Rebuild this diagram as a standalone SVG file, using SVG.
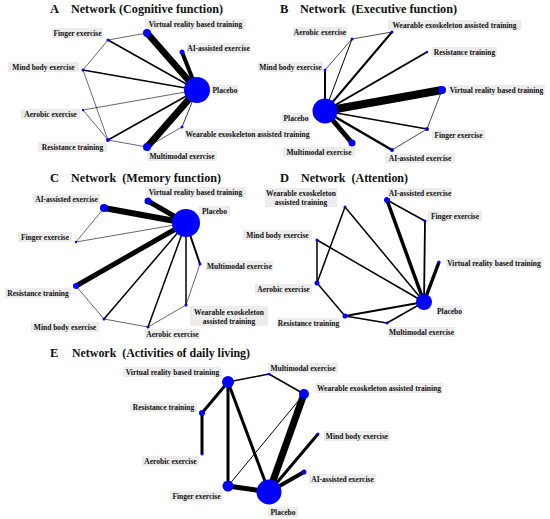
<svg xmlns="http://www.w3.org/2000/svg" width="550" height="519" viewBox="0 0 550 519">
<style>
.bg{fill:#ffffff}
.n{fill:#0000ff}
.lb{fill:#ececec}
.t{font-family:"Liberation Serif","Times New Roman",serif;font-weight:bold;font-size:7.5px;fill:#111;text-anchor:middle}
.ti{font-family:"Liberation Serif","Times New Roman",serif;font-weight:bold;font-size:12.5px;fill:#111}
.e{stroke:#000;fill:none;stroke-linecap:butt}
</style>
<rect class="bg" x="0" y="0" width="550" height="519"/>

<!-- Titles -->
<g id="titles">
<text class="ti" x="50" y="13">A</text><text class="ti" x="71" y="13" textLength="152" lengthAdjust="spacingAndGlyphs">Network (Cognitive function)</text>
<text class="ti" x="280" y="13">B</text><text class="ti" x="300" y="13" textLength="157" lengthAdjust="spacingAndGlyphs" xml:space="preserve">Network  (Executive function)</text>
<text class="ti" x="50" y="182">C</text><text class="ti" x="71" y="182" textLength="150" lengthAdjust="spacingAndGlyphs" xml:space="preserve">Network  (Memory function)</text>
<text class="ti" x="280" y="182">D</text><text class="ti" x="301" y="182" textLength="107" lengthAdjust="spacingAndGlyphs" xml:space="preserve">Network  (Attention)</text>
<text class="ti" x="50" y="357">E</text><text class="ti" x="72" y="357" textLength="178" lengthAdjust="spacingAndGlyphs" xml:space="preserve">Network  (Activities of daily living)</text>
</g>

<!-- Connectors -->
<g id="connectors">
<g id="edges-A">
<line class="e" x1="197" y1="90" x2="147" y2="33" stroke-width="6.5"/>
<line class="e" x1="197" y1="90" x2="182" y2="52" stroke-width="4"/>
<line class="e" x1="197" y1="90" x2="147" y2="147" stroke-width="7"/>
<line class="e" x1="197" y1="90" x2="83" y2="70" stroke-width="1.5"/>
<line class="e" x1="197" y1="90" x2="108" y2="40" stroke-width="1.5"/>
<line class="e" x1="197" y1="90" x2="83" y2="110" stroke-width="0.6"/>
<line class="e" x1="197" y1="90" x2="108" y2="140" stroke-width="1.5"/>
<line class="e" x1="197" y1="90" x2="182" y2="127" stroke-width="0.8"/>
<line class="e" x1="108" y1="40" x2="147" y2="33" stroke-width="0.6"/>
<line class="e" x1="108" y1="40" x2="83" y2="70" stroke-width="0.6"/>
<line class="e" x1="83" y1="70" x2="108" y2="140" stroke-width="0.6"/>
<line class="e" x1="83" y1="110" x2="108" y2="140" stroke-width="0.6"/>
<line class="e" x1="108" y1="140" x2="147" y2="147" stroke-width="0.6"/>
<line class="e" x1="147" y1="147" x2="182" y2="127" stroke-width="0.6"/>
</g>
<g id="edges-B">
<line class="e" x1="325" y1="111" x2="442" y2="90" stroke-width="8"/>
<line class="e" x1="325" y1="111" x2="352" y2="143" stroke-width="5"/>
<line class="e" x1="325" y1="111" x2="392" y2="150" stroke-width="2.5"/>
<line class="e" x1="325" y1="111" x2="427" y2="129" stroke-width="1.5"/>
<line class="e" x1="325" y1="111" x2="427" y2="52" stroke-width="2"/>
<line class="e" x1="325" y1="111" x2="392" y2="32" stroke-width="2"/>
<line class="e" x1="325" y1="111" x2="352" y2="39" stroke-width="1"/>
<line class="e" x1="325" y1="111" x2="325" y2="70" stroke-width="2"/>
<line class="e" x1="325" y1="70" x2="352" y2="39" stroke-width="0.7"/>
<line class="e" x1="352" y1="39" x2="392" y2="32" stroke-width="0.7"/>
<line class="e" x1="442" y1="90" x2="427" y2="129" stroke-width="0.7"/>
<line class="e" x1="427" y1="129" x2="392" y2="150" stroke-width="0.7"/>
</g>
<g id="edges-C">
<line class="e" x1="186" y1="223" x2="104" y2="208" stroke-width="6"/>
<line class="e" x1="186" y1="223" x2="148" y2="201" stroke-width="5"/>
<line class="e" x1="186" y1="223" x2="76" y2="286" stroke-width="5"/>
<line class="e" x1="186" y1="223" x2="76" y2="242" stroke-width="0.6"/>
<line class="e" x1="186" y1="223" x2="200" y2="264" stroke-width="2"/>
<line class="e" x1="186" y1="223" x2="186" y2="305" stroke-width="1.5"/>
<line class="e" x1="186" y1="223" x2="148" y2="327" stroke-width="1.5"/>
<line class="e" x1="186" y1="223" x2="104" y2="319" stroke-width="1.5"/>
<line class="e" x1="104" y1="208" x2="76" y2="242" stroke-width="0.6"/>
<line class="e" x1="76" y1="286" x2="104" y2="319" stroke-width="0.6"/>
<line class="e" x1="104" y1="319" x2="148" y2="327" stroke-width="0.6"/>
<line class="e" x1="148" y1="327" x2="186" y2="305" stroke-width="0.6"/>
<line class="e" x1="186" y1="305" x2="200" y2="264" stroke-width="0.6"/>
</g>
<g id="edges-D">
<line class="e" x1="424" y1="302" x2="387" y2="200" stroke-width="3.5"/>
<line class="e" x1="424" y1="302" x2="439" y2="262" stroke-width="3.5"/>
<line class="e" x1="424" y1="302" x2="425" y2="221" stroke-width="1.8"/>
<line class="e" x1="424" y1="302" x2="345" y2="207" stroke-width="1.5"/>
<line class="e" x1="424" y1="302" x2="317" y2="240" stroke-width="1.5"/>
<line class="e" x1="424" y1="302" x2="345" y2="316" stroke-width="1.8"/>
<line class="e" x1="424" y1="302" x2="387" y2="323" stroke-width="1.5"/>
<line class="e" x1="387" y1="200" x2="425" y2="221" stroke-width="1.5"/>
<line class="e" x1="345" y1="207" x2="317" y2="283" stroke-width="1.5"/>
<line class="e" x1="317" y1="240" x2="317" y2="283" stroke-width="1.5"/>
<line class="e" x1="317" y1="283" x2="345" y2="316" stroke-width="1.5"/>
<line class="e" x1="345" y1="316" x2="387" y2="323" stroke-width="1.5"/>
</g>
<g id="edges-E">
<line class="e" x1="228" y1="382" x2="269" y2="374" stroke-width="1.5"/>
<line class="e" x1="269" y1="374" x2="304" y2="394" stroke-width="1.5"/>
<line class="e" x1="228" y1="382" x2="202" y2="413" stroke-width="3"/>
<line class="e" x1="202" y1="413" x2="202" y2="454" stroke-width="3"/>
<line class="e" x1="228" y1="382" x2="228" y2="486" stroke-width="3"/>
<line class="e" x1="228" y1="382" x2="269" y2="492" stroke-width="3"/>
<line class="e" x1="304" y1="394" x2="228" y2="486" stroke-width="1"/>
<line class="e" x1="304" y1="394" x2="269" y2="492" stroke-width="7"/>
<line class="e" x1="318" y1="434" x2="269" y2="492" stroke-width="3"/>
<line class="e" x1="304" y1="472" x2="269" y2="492" stroke-width="4"/>
<line class="e" x1="228" y1="486" x2="269" y2="492" stroke-width="5"/>
</g>
</g>

<!-- Panel A nodes -->
<g id="A-placebo"><circle class="n" cx="197" cy="90" r="13"/><rect class="lb" x="212" y="85" width="26" height="10"/><text class="t" x="225" y="92.6">Placebo</text></g>
<g id="A-vr"><circle class="n" cx="147" cy="33" r="4"/><rect class="lb" x="145" y="19" width="101" height="10"/><text class="t" x="195.5" y="26.6">Virtual reality based training</text></g>
<g id="A-ai"><circle class="n" cx="182" cy="52" r="2.5"/><rect class="lb" x="187" y="43" width="63" height="10"/><text class="t" x="218.5" y="50.6">AI-assisted exercise</text></g>
<g id="A-finger"><circle class="n" cx="108" cy="40" r="1.5"/><rect class="lb" x="52" y="28" width="51" height="10"/><text class="t" x="77.5" y="35.6">Finger exercise</text></g>
<g id="A-mind"><circle class="n" cx="83" cy="70" r="1.5"/><rect class="lb" x="8" y="62" width="71" height="10"/><text class="t" x="43.5" y="69.6">Mind body exercise</text></g>
<g id="A-aerobic"><circle class="n" cx="83" cy="110" r="1.2"/><rect class="lb" x="21" y="109" width="59" height="10"/><text class="t" x="50.5" y="116.6">Aerobic exercise</text></g>
<g id="A-resistance"><circle class="n" cx="108" cy="140" r="2"/><rect class="lb" x="38" y="142" width="69" height="10"/><text class="t" x="72.5" y="149.6">Resistance training</text></g>
<g id="A-multimodal"><circle class="n" cx="147" cy="147" r="4"/><rect class="lb" x="147" y="151" width="70" height="10"/><text class="t" x="182" y="158.6">Multimodal exercise</text></g>
<g id="A-wearable"><circle class="n" cx="182" cy="127" r="1.5"/><rect class="lb" x="185" y="129" width="125" height="10"/><text class="t" x="247.5" y="136.6">Wearable exoskeleton assisted training</text></g>

<!-- Panel B nodes -->
<g id="B-placebo"><circle class="n" cx="325" cy="111" r="12.5"/><rect class="lb" x="282" y="113" width="28" height="10"/><text class="t" x="296" y="120.6">Placebo</text></g>
<g id="B-aerobic"><circle class="n" cx="352" cy="39" r="1.5"/><rect class="lb" x="293" y="27" width="54" height="10"/><text class="t" x="320" y="34.6">Aerobic exercise</text></g>
<g id="B-wearable"><circle class="n" cx="392" cy="32" r="1.5"/><rect class="lb" x="388" y="20" width="133" height="10"/><text class="t" x="454.5" y="27.6">Wearable exoskeleton assisted training</text></g>
<g id="B-resistance"><circle class="n" cx="427" cy="52" r="1.2"/><rect class="lb" x="432" y="47" width="65" height="10"/><text class="t" x="464.5" y="54.6">Resistance training</text></g>
<g id="B-vr"><circle class="n" cx="442" cy="90" r="4"/><rect class="lb" x="448" y="85" width="97" height="10"/><text class="t" x="496.5" y="92.6">Virtual reality based training</text></g>
<g id="B-finger"><circle class="n" cx="427" cy="129" r="2"/><rect class="lb" x="432" y="130" width="53" height="10"/><text class="t" x="458.5" y="137.6">Finger exercise</text></g>
<g id="B-ai"><circle class="n" cx="392" cy="150" r="2"/><rect class="lb" x="385" y="153" width="70" height="10"/><text class="t" x="420" y="160.6">AI-assisted exercise</text></g>
<g id="B-multimodal"><circle class="n" cx="352" cy="143" r="3.5"/><rect class="lb" x="283" y="147" width="72" height="10"/><text class="t" x="319" y="154.6">Multimodal exercise</text></g>
<g id="B-mind"><circle class="n" cx="325" cy="70" r="1.5"/><rect class="lb" x="258" y="62" width="65" height="10"/><text class="t" x="290.5" y="69.6">Mind body exercise</text></g>

<!-- Panel C nodes -->
<g id="C-placebo"><circle class="n" cx="186" cy="223" r="14"/><rect class="lb" x="199" y="206" width="31" height="10"/><text class="t" x="214.5" y="213.6">Placebo</text></g>
<g id="C-vr"><circle class="n" cx="148" cy="201" r="3.5"/><rect class="lb" x="145" y="187" width="101" height="10"/><text class="t" x="195.5" y="194.6">Virtual reality based training</text></g>
<g id="C-ai"><circle class="n" cx="104" cy="208" r="4"/><rect class="lb" x="33" y="194" width="67" height="10"/><text class="t" x="66.5" y="201.6">AI-assisted exercise</text></g>
<g id="C-finger"><circle class="n" cx="76" cy="242" r="1.2"/><rect class="lb" x="18" y="232" width="54" height="10"/><text class="t" x="45" y="239.6">Finger exercise</text></g>
<g id="C-resistance"><circle class="n" cx="76" cy="286" r="3"/><rect class="lb" x="5" y="288" width="66" height="10"/><text class="t" x="38" y="295.6">Resistance training</text></g>
<g id="C-mind"><circle class="n" cx="104" cy="319" r="1.5"/><rect class="lb" x="31" y="322" width="68" height="10"/><text class="t" x="65" y="329.6">Mind body exercise</text></g>
<g id="C-aerobic"><circle class="n" cx="148" cy="327" r="1.5"/><rect class="lb" x="145" y="329" width="55" height="10"/><text class="t" x="172.5" y="336.6">Aerobic exercise</text></g>
<g id="C-wearable"><circle class="n" cx="186" cy="305" r="1.5"/><rect class="lb" x="190" y="306" width="78" height="20"/><text class="t" x="229" y="314.6">Wearable exoskeleton</text><text class="t" x="229" y="323.6">assisted training</text></g>
<g id="C-multimodal"><circle class="n" cx="200" cy="264" r="1.5"/><rect class="lb" x="206" y="261" width="67" height="10"/><text class="t" x="239.5" y="268.6">Multimodal exercise</text></g>

<!-- Panel D nodes -->
<g id="D-placebo"><circle class="n" cx="424" cy="302" r="8"/><rect class="lb" x="437" y="306" width="25" height="10"/><text class="t" x="449.5" y="313.6">Placebo</text></g>
<g id="D-ai"><circle class="n" cx="387" cy="200" r="3"/><rect class="lb" x="388" y="188" width="64" height="10"/><text class="t" x="420" y="195.6">AI-assisted exercise</text></g>
<g id="D-finger"><circle class="n" cx="425" cy="221" r="1.5"/><rect class="lb" x="428" y="211" width="54" height="10"/><text class="t" x="455" y="218.6">Finger exercise</text></g>
<g id="D-vr"><circle class="n" cx="439" cy="262" r="1.5"/><rect class="lb" x="446" y="258" width="96" height="10"/><text class="t" x="494" y="265.6">Virtual reality based training</text></g>
<g id="D-wearable"><circle class="n" cx="345" cy="207" r="1.5"/><rect class="lb" x="265" y="188" width="72" height="19"/><text class="t" x="301" y="195.6">Wearable exoskeleton</text><text class="t" x="301" y="204.6">assisted training</text></g>
<g id="D-mind"><circle class="n" cx="317" cy="240" r="1.5"/><rect class="lb" x="243" y="230" width="69" height="10"/><text class="t" x="277.5" y="237.6">Mind body exercise</text></g>
<g id="D-aerobic"><circle class="n" cx="317" cy="283" r="2.5"/><rect class="lb" x="255" y="284" width="57" height="10"/><text class="t" x="283.5" y="291.6">Aerobic exercise</text></g>
<g id="D-resistance"><circle class="n" cx="345" cy="316" r="2.5"/><rect class="lb" x="277" y="318" width="63" height="10"/><text class="t" x="308.5" y="325.6">Resistance training</text></g>
<g id="D-multimodal"><circle class="n" cx="387" cy="323" r="1.5"/><rect class="lb" x="388" y="327" width="67" height="10"/><text class="t" x="421.5" y="334.6">Multimodal exercise</text></g>

<!-- Panel E nodes -->
<g id="E-placebo"><circle class="n" cx="269" cy="492" r="12.5"/><rect class="lb" x="268" y="507" width="30" height="10"/><text class="t" x="283" y="514.6">Placebo</text></g>
<g id="E-vr"><circle class="n" cx="228" cy="382" r="6"/><rect class="lb" x="123" y="367" width="99" height="10"/><text class="t" x="172.5" y="374.6">Virtual reality based training</text></g>
<g id="E-multimodal"><circle class="n" cx="269" cy="374" r="1.5"/><rect class="lb" x="268" y="363" width="70" height="10"/><text class="t" x="303" y="370.6">Multimodal exercise</text></g>
<g id="E-wearable"><circle class="n" cx="304" cy="394" r="5"/><rect class="lb" x="315" y="383" width="128" height="10"/><text class="t" x="379" y="390.6">Wearable exoskeleton assisted training</text></g>
<g id="E-resistance"><circle class="n" cx="202" cy="413" r="3"/><rect class="lb" x="130" y="402" width="67" height="10"/><text class="t" x="163.5" y="409.6">Resistance training</text></g>
<g id="E-mind"><circle class="n" cx="318" cy="434" r="1.5"/><rect class="lb" x="324" y="431" width="66" height="10"/><text class="t" x="357" y="438.6">Mind body exercise</text></g>
<g id="E-aerobic"><circle class="n" cx="202" cy="454" r="1.5"/><rect class="lb" x="142" y="456" width="57" height="10"/><text class="t" x="170.5" y="463.6">Aerobic exercise</text></g>
<g id="E-ai"><circle class="n" cx="304" cy="472" r="2.5"/><rect class="lb" x="309" y="474" width="67" height="10"/><text class="t" x="342.5" y="481.6">AI-assisted exercise</text></g>
<g id="E-finger"><circle class="n" cx="228" cy="486" r="5.5"/><rect class="lb" x="170" y="491" width="53" height="10"/><text class="t" x="196.5" y="498.6">Finger exercise</text></g>
</svg>
